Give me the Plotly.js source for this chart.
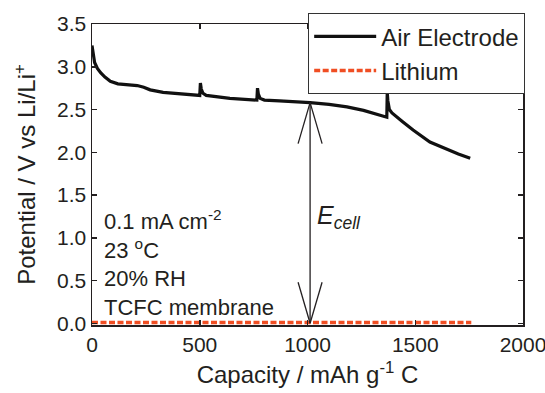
<!DOCTYPE html>
<html>
<head>
<meta charset="utf-8">
<script src="https://cdn.plot.ly/plotly-3.0.1.min.js"></script>
<style>html,body{margin:0;padding:0;background:#fff;}#chart{width:545px;height:393px;}</style>
</head>
<body>
<div id="chart"></div>
<script>
// Air electrode discharge curve (capacity mAh/g C, potential V vs Li/Li+)
var airCapacity = [0, 5, 12, 25, 40, 60, 85, 120, 176, 210, 240, 270, 330, 410, 495,
  500, 503, 507, 515, 530, 640, 760, 765, 768, 772, 780, 800, 870, 965, 1012,
  1100, 1183, 1260, 1336, 1368, 1370, 1373, 1380, 1392, 1440, 1490, 1568, 1647, 1700, 1755];
var airPotential = [3.25, 3.15, 3.05, 2.98, 2.93, 2.88, 2.83, 2.80, 2.79, 2.78, 2.76, 2.73, 2.70, 2.68, 2.665,
  2.665, 2.81, 2.74, 2.69, 2.665, 2.63, 2.61, 2.61, 2.75, 2.68, 2.63, 2.61, 2.60, 2.59, 2.58,
  2.56, 2.53, 2.49, 2.44, 2.41, 2.70, 2.60, 2.50, 2.46, 2.36, 2.26, 2.12, 2.03, 1.98, 1.93];
// Lithium electrode potential
var liCapacity = [0, 1760];
var liPotential = [0.01, 0.01];
// E_cell arrow location
var ecellCapacity = 1012;
var ecellTop = 2.58;
var ecellBottom = 0.0;
var xTicks = [0, 500, 1000, 1500, 2000];
var yTicks = [0, 0.5, 1.0, 1.5, 2.0, 2.5, 3.0, 3.5];
var yTickText = ['0.0', '0.5', '1.0', '1.5', '2.0', '2.5', '3.0', '3.5'];
var conditionLines = ['0.1 mA cm<sup>-2</sup>', '23 <sup>o</sup>C', '20% RH', 'TCFC membrane'];

var FONT = 'Liberation Sans, Arial, sans-serif';
var TXT = '#231f20';

var traces = [
  {x: airCapacity, y: airPotential, type: 'scatter', mode: 'lines', name: 'Air Electrode',
   line: {color: '#111111', width: 3.2}},
  {x: liCapacity, y: liPotential, type: 'scatter', mode: 'lines', name: 'Lithium',
   line: {color: '#f04e23', width: 3.5, dash: '6px,2.5px'}}
];

var annotations = [
  {text: conditionLines.join('<br>'), xref: 'paper', yref: 'paper', x: 0.024, y: 0.205,
   xanchor: 'left', yanchor: 'middle', align: 'left', showarrow: false,
   font: {family: FONT, size: 22, color: TXT}},
  {text: '<i>E</i><sub><i>cell</i></sub>', xref: 'x', yref: 'paper',
   x: ecellCapacity + 22, y: 0.36, xanchor: 'left', yanchor: 'middle', showarrow: false,
   font: {family: FONT, size: 25, color: TXT}}
];

function arm(yAnchor, dx, dy) {
  return {type: 'line', xref: 'x', yref: 'y', xsizemode: 'pixel', ysizemode: 'pixel',
    xanchor: ecellCapacity, yanchor: yAnchor, x0: 0, y0: 0, x1: dx, y1: dy,
    line: {color: TXT, width: 1.3}};
}
var shapes = [
  {type: 'line', xref: 'x', yref: 'y', x0: ecellCapacity, x1: ecellCapacity,
   y0: ecellBottom, y1: ecellTop, line: {color: TXT, width: 1.3}},
  arm(ecellTop, -12, -41), arm(ecellTop, 12, -41),
  arm(ecellBottom, -12, 41), arm(ecellBottom, 12, 41)
];

var layout = {
  width: 545, height: 393,
  margin: {l: 92, r: 22, t: 24, b: 68, pad: 0},
  paper_bgcolor: '#fff', plot_bgcolor: '#fff',
  font: {family: FONT, color: TXT, size: 21},
  showlegend: true,
  legend: {x: 1.0046, y: 1.0365, xanchor: 'right', yanchor: 'top',
    bgcolor: '#fff', bordercolor: '#333', borderwidth: 1.2,
    font: {family: FONT, size: 24, color: TXT}, itemwidth: 62, tracegroupgap: 0},
  xaxis: {range: [0, 2000], tickvals: xTicks, ticks: 'inside', ticklen: 5, tickwidth: 1.5,
    tickcolor: TXT, showline: true, linecolor: TXT, linewidth: 1.5, mirror: 'ticks',
    showgrid: false, zeroline: false, tickfont: {size: 21}, ticklabeloverflow: 'allow',
    title: {text: 'Capacity / mAh g<sup>-1</sup> C', font: {size: 24}, standoff: 11}},
  yaxis: {range: [-0.02, 3.5], tickvals: yTicks, ticktext: yTickText, ticks: 'inside', ticklen: 5,
    tickwidth: 1.5, tickcolor: TXT, showline: true, linecolor: TXT, linewidth: 1.5, mirror: 'ticks',
    showgrid: false, zeroline: false, tickfont: {size: 21}, ticklabeloverflow: 'allow',
    title: {text: 'Potential / V vs Li/Li<sup>+</sup>', font: {size: 24}, standoff: 14}},
  annotations: annotations,
  shapes: shapes
};

Plotly.newPlot('chart', traces, layout, {staticPlot: true, displayModeBar: false});
</script>
</body>
</html>
